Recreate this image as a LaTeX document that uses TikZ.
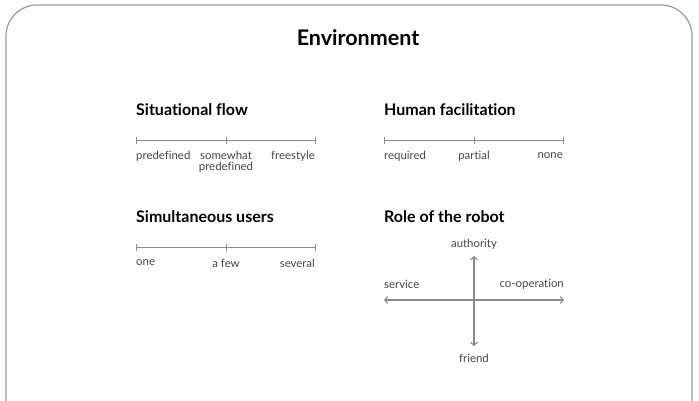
\documentclass[tikz,border=0pt]{standalone}
\usepackage{fontspec}
\setmainfont{Lato}[Ligatures={NoCommon}]
\usetikzlibrary{arrows.meta}
\definecolor{linegray}{HTML}{8A8A8A}
\definecolor{framegray}{HTML}{9A9A9A}
\definecolor{txtgray}{HTML}{444444}
\tikzset{
  lbl/.style={font=\fontsize{11.4}{11.5}\selectfont, text=txtgray, inner sep=0pt},
  head/.style={font=\fontsize{16}{18}\selectfont\bfseries, text=black, inner sep=0pt, anchor=west},
  scaleline/.style={draw=linegray, line width=0.9pt},
  tick/.style={draw=linegray, line width=0.9pt},
  axis/.style={draw=linegray, line width=1.1pt, {Straight Barb[length=3pt,width=7pt]}-{Straight Barb[length=3pt,width=7pt]}}
}
\begin{document}
\begin{tikzpicture}[x=1pt,y=-1pt]
\useasboundingbox (0,0) rectangle (699,400);
% frame
\draw[framegray, line width=1.2pt, rounded corners=31pt] (6,402) -- (6,5) -- (692,5) -- (692,402);
\node[font=\fontsize{21.5}{24}\selectfont\bfseries, inner sep=0pt] (title) at (358,38) {Environment};

% Situational flow
\node[head] (h1) at (136,110) {Situational flow};
\coordinate (s1a) at (136,140); \coordinate (s1m) at (226,140); \coordinate (s1b) at (315,140);
\draw[scaleline] (s1a) -- (s1b);
\foreach \c in {s1a,s1m,s1b} \draw[tick] ([yshift=-3.5pt]\c) -- ([yshift=3.5pt]\c);
\node[lbl, anchor=west] (l1a) at (136,156) {predefined};
\node[lbl, align=center, anchor=north, font=\fontsize{11.4}{11}\selectfont] (l1m) at (226,151) {somewhat\\predefined};
\node[lbl, anchor=east] (l1b) at (315,156) {freestyle};

% Human facilitation
\node[head] (h2) at (384,110) {Human facilitation};
\coordinate (s2a) at (384,140); \coordinate (s2m) at (474,140); \coordinate (s2b) at (563,140);
\draw[scaleline] (s2a) -- (s2b);
\foreach \c in {s2a,s2m,s2b} \draw[tick] ([yshift=-3.5pt]\c) -- ([yshift=3.5pt]\c);
\node[lbl, anchor=west] (l2a) at (384,156) {required};
\node[lbl] (l2m) at (474,156) {partial};
\node[lbl, anchor=east] (l2b) at (563,156) {none};

% Simultaneous users
\node[head] (h3) at (136,217) {Simultaneous users};
\coordinate (s3a) at (136,247); \coordinate (s3m) at (226,247); \coordinate (s3b) at (315,247);
\draw[scaleline] (s3a) -- (s3b);
\foreach \c in {s3a,s3m,s3b} \draw[tick] ([yshift=-3.5pt]\c) -- ([yshift=3.5pt]\c);
\node[lbl, anchor=west] (l3a) at (136,263) {one};
\node[lbl] (l3m) at (226,263) {a few};
\node[lbl, anchor=east] (l3b) at (315,263) {several};

% Role of the robot
\node[head] (h4) at (384,217) {Role of the robot};
\node[lbl] (auth) at (474,244) {authority};
\node[lbl] (friend) at (474,358) {friend};
\node[lbl, anchor=west] (serv) at (384,284) {service};
\node[lbl, anchor=east] (coop) at (564,284) {co-operation};
\coordinate (vt) at (474,256); \coordinate (vb) at (474,346);
\coordinate (hl) at (384,300); \coordinate (hr) at (564,300);
\draw[axis] (vt) -- (vb);
\draw[axis] (hl) -- (hr);
\end{tikzpicture}
\end{document}
